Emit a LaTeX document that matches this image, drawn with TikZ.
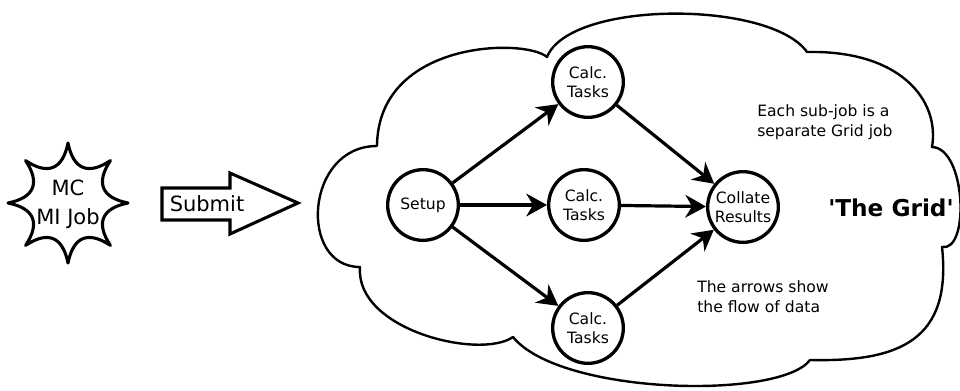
\documentclass[tikz,border=0pt]{standalone}
\usepackage{fontspec}
\setmainfont{DejaVu Sans}
\usetikzlibrary{arrows.meta}
\begin{document}
\begin{tikzpicture}[x=0.75pt,y=-0.75pt,
  task/.style={circle,draw,line width=2.5pt,minimum size=53pt,inner sep=0pt,align=center,font=\fontsize{11.7}{14.5}\selectfont},
  flow/.style={line width=2.4pt,-{Stealth[length=15.5pt,width=17pt,inset=5pt]}},
  note/.style={align=left,font=\fontsize{11.7}{15}\selectfont,inner sep=0pt},
  outline/.style={line width=1.8pt,line join=round},
  shapeline/.style={line width=2.3pt,line join=round}]
\useasboundingbox (0,0) rectangle (960,390);

% star "MC MI Job"
\draw[shapeline,shift={(68,203)}] (90:60)
  foreach \a in {90,135,...,360} { .. controls (\a+9:34) and (\a+36:34) .. (\a+45:60) }
  .. controls (414:34) and (441:34) .. cycle;
\node[font=\fontsize{15.75}{21.75}\selectfont,align=center,inner sep=0pt] (job) at (68,204) {MC\\MI Job};

% submit arrow
\draw[line width=2.3pt,line join=miter] (162,188) -- (230,188) -- (230,173) -- (298,203) -- (230,234) -- (230,220) -- (162,220) -- cycle;
\node[font=\fontsize{15.75}{18}\selectfont,inner sep=0pt] (submit) at (207,204) {Submit};

% cloud
\draw[outline] (377,146) .. controls (378,40) and (525,38) .. (547,57)
  .. controls (570,0) and (770,0) .. (807,52)
  .. controls (900,50) and (940,100) .. (932,147)
  .. controls (966,148) and (970,252) .. (942,247)
  .. controls (952,340) and (900,362) .. (810,360)
  .. controls (780,400) and (560,395) .. (513,337)
  .. controls (480,360) and (355,330) .. (360,267)
  .. controls (298,267) and (305,146) .. cycle;

% task nodes
\node[task] (setup) at (423,205) {Setup};
\node[task] (t1) at (588,82) {Calc.\\Tasks};
\node[task] (t2) at (584,205) {Calc.\\Tasks};
\node[task] (t3) at (588,328) {Calc.\\Tasks};
\node[task] (coll) at (743,207) {Collate\\Results};

\draw[flow] (setup) -- (t1);
\draw[flow] (setup) -- (t2);
\draw[flow] (setup) -- (t3);
\draw[flow] (t1) -- (coll);
\draw[flow] (t2) -- (coll);
\draw[flow] (t3) -- (coll);

% notes
\node[note,anchor=north west] (n1) at (757,104) {Each sub-job is a\\separate Grid job};
\node[note,anchor=north west] (n2) at (697,280) {The arrows show\\the flow of data};
\node[font=\bfseries\fontsize{17.4}{20}\selectfont,inner sep=0pt] (grid) at (891,208) {\textquotesingle The Grid\textquotesingle};
\end{tikzpicture}
\end{document}
